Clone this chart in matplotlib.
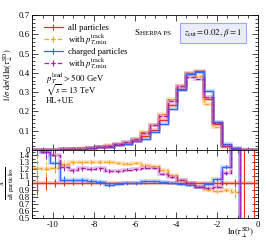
import numpy as np
import matplotlib
matplotlib.use("Agg")
import matplotlib.pyplot as plt
from matplotlib.lines import Line2D
from matplotlib.ticker import MultipleLocator

plt.rcParams['font.family'] = ['Liberation Serif', 'DejaVu Serif']
plt.rcParams['mathtext.fontset'] = 'stix'

# ---- data ----
bin_edges = np.linspace(-11.0, 0.0, 26)
labels = ["all particles", r"with $p_{T,\mathrm{min}}^{\mathrm{track}}$",
          "charged particles", r"with $p_{T,\mathrm{min}}^{\mathrm{track}}$"]
colors = ["#EE3311", "#FFA020", "#3366FF", "#AA22AA"]
styles = ["-", "--", "-", "--"]

all_particles = [0.0005, 0.001, 0.0015, 0.0025, 0.004, 0.006, 0.009, 0.013, 0.018, 0.025,
                 0.033, 0.046, 0.072, 0.106, 0.157, 0.234, 0.316, 0.400, 0.410, 0.265,
                 0.133, 0.020, 0.004, 0.0005, 0.0002]
all_ptmin = [0.0006, 0.0012, 0.0018, 0.0032, 0.0052, 0.0078, 0.0117, 0.0169, 0.0234, 0.032,
             0.042, 0.059, 0.091, 0.131, 0.187, 0.262, 0.332, 0.396, 0.385, 0.240,
             0.118, 0.018, 0.0035, 0.0, 0.0]
charged = [0.0008, 0.0014, 0.0019, 0.0026, 0.0042, 0.0062, 0.0093, 0.0133, 0.0176, 0.0248,
           0.033, 0.046, 0.055, 0.094, 0.133, 0.214, 0.311, 0.396, 0.405, 0.308,
           0.145, 0.029, 0.008, 0.0, 0.0]
charged_ptmin = [0.0007, 0.0015, 0.0021, 0.0031, 0.0048, 0.0073, 0.0108, 0.0157, 0.0211, 0.029,
                 0.039, 0.055, 0.088, 0.128, 0.177, 0.255, 0.332, 0.380, 0.368, 0.277,
                 0.140, 0.023, 0.007, 0.0, 0.0]

ratio_all_ptmin = [1.21, 1.20, 1.21, 1.28, 1.30, 1.30, 1.30, 1.30, 1.30, 1.29,
                   1.28, 1.29, 1.26, 1.24, 1.19, 1.12, 1.05, 0.99, 0.94, 0.90,
                   0.88, 0.90, 0.87, np.nan, np.nan]
ratio_charged = [1.60, 1.44, 1.29, 1.05, 1.04, 1.04, 1.03, 1.02, 0.98, 0.99,
                 1.00, 1.00, 1.03, 1.03, 1.01, 1.00, 0.99, 0.97, 0.95, 0.99,
                 1.055, 1.23, 1.60, 0.0, 0.0]
ratio_charged_ptmin = [np.nan, 1.45, 1.41, 1.23, 1.19, 1.21, 1.20, 1.21, 1.17, 1.17,
                       1.19, 1.20, 1.22, 1.21, 1.13, 1.09, 1.05, 1.00, 0.95, 0.93,
                       0.95, 1.14, 1.60, 0.0, 0.0]
ratio_err_all = [0.17, 0.10, 0.06, 0.04, 0.03, 0.03, 0.02, 0.02, 0.015, 0.01,
                 0.01, 0.01, 0.01, 0.005, 0.005, 0.005, 0.005, 0.005, 0.005, 0.005,
                 0.01, 0.02, 0.06, 0.6, 0.6]
ratio_err_ptmin = [0.20, 0.10, 0.07, 0.05, 0.04, 0.04, 0.03, 0.03, 0.03, 0.02,
                   0.02, 0.02, 0.02, 0.01, 0.01, 0.01, 0.01, 0.01, 0.01, 0.01,
                   0.02, 0.03, 0.08, 0.0, 0.0]

series = [all_particles, all_ptmin, charged, charged_ptmin]
ratios = [[1.0] * 25, ratio_all_ptmin, ratio_charged, ratio_charged_ptmin]
rerrs = [ratio_err_all, ratio_err_ptmin, ratio_err_ptmin, ratio_err_ptmin]

# ---- figure ----
fig = plt.figure(figsize=(2.66, 2.40), dpi=100)
axm = fig.add_axes([0.122, 0.375, 0.848, 0.5625])
axr = fig.add_axes([0.122, 0.0917, 0.848, 0.2833], sharex=axm)

centers = 0.5 * (bin_edges[:-1] + bin_edges[1:])

def step(ax, vals, color, ls, lw=0.9, band=True):
    v = np.asarray(vals, dtype=float)
    y = np.append(v, v[-1])
    if band:
        ax.step(bin_edges, y, where='post', color=color, lw=2.6, alpha=0.3,
                solid_joinstyle='miter')
    ax.step(bin_edges, y, where='post', color=color, lw=lw, ls=ls)

for vals, c, ls in zip(series, colors, styles):
    step(axm, vals, c, ls)

for r, e, c, ls in zip(ratios, rerrs, colors, styles):
    step(axr, r, c, ls)
    r = np.asarray(r, float)
    e = np.asarray(e, float)
    axr.vlines(centers, r - e, r + e, colors=c, lw=0.8, linestyles=ls)

axm.set_xlim(-11, 0)
axm.set_ylim(0, 0.7)
axr.set_ylim(0.5, 1.475)

axm.yaxis.set_major_locator(MultipleLocator(0.1))
axm.yaxis.set_minor_locator(MultipleLocator(0.02))
axr.yaxis.set_major_locator(MultipleLocator(0.1))
axr.yaxis.set_minor_locator(MultipleLocator(0.05))
axr.xaxis.set_major_locator(MultipleLocator(2))
axr.xaxis.set_minor_locator(MultipleLocator(0.5))

for ax in (axm, axr):
    ax.tick_params(which='both', direction='in', top=True, right=True,
                   labelsize=6.3, pad=2, width=0.5)
    ax.tick_params(which='major', length=4)
    ax.tick_params(which='minor', length=2)
    for s in ax.spines.values():
        s.set_linewidth(0.6)
axm.tick_params(labelbottom=False)
axm.set_yticks(np.arange(0, 0.71, 0.1))
axm.set_yticklabels(["0", "0.1", "0.2", "0.3", "0.4", "0.5", "0.6", "0.7"])
rt = np.round(np.arange(0.5, 1.41, 0.1), 1)
axr.set_yticks(rt)
axr.set_yticklabels([("1" if v == 1.0 else f"{v:.1f}") for v in rt])
axr.set_xticks([-10, -8, -6, -4, -2, 0])
axr.set_xticklabels(["-10", "-8", "-6", "-4", "-2", "0"])

fig.text(0.03, 0.6875, r"$1/\sigma\;\mathrm{d}\sigma/\mathrm{d}\,\ln(\tau_{\perp}^{\mathrm{SD}})$",
         rotation=90, ha='center', va='center', fontsize=6)
fig.text(0.03, 0.235, r"$\frac{X}{\mathrm{all\ particles}}$",
         rotation=90, ha='center', va='center', fontsize=7)
fig.text(0.955, 0.03, r"$\ln(\tau_{\perp}^{\mathrm{SD}})$", ha='right', va='center', fontsize=6.5)

handles = [Line2D([], [], color=c, ls=ls, lw=0.9, marker='|', markersize=5,
                  markeredgewidth=0.8) for c, ls in zip(colors, styles)]
axm.legend(handles, labels, loc='upper left', bbox_to_anchor=(0.05, 0.935),
           frameon=False, fontsize=6.3, handlelength=2.2, handletextpad=0.6,
           labelspacing=0.05, borderaxespad=0.0, borderpad=0.0)

axm.text(0.45, 0.865, "S", transform=axm.transAxes, fontsize=6.3, ha='left', va='center')
axm.text(0.476, 0.862, "HERPA PS", transform=axm.transAxes, fontsize=5, ha='left', va='center')
axm.text(0.80, 0.865, r"$z_{\mathrm{cut}}=0.02,\,\beta=1$", transform=axm.transAxes,
         fontsize=6.3, ha='center', va='center',
         bbox=dict(boxstyle='square,pad=0.45', fc='#ECECF8', ec='#99AAEE', lw=0.8))

axm.text(0.06, 0.53, r"$p_T^{\mathrm{lead}} > 500$ GeV", transform=axm.transAxes,
         fontsize=6.3, ha='left', va='center')
axm.text(0.06, 0.44, r"$\sqrt{s}=13$ TeV", transform=axm.transAxes,
         fontsize=6.3, ha='left', va='center')
axm.text(0.06, 0.36, "HL+UE", transform=axm.transAxes,
         fontsize=6.3, ha='left', va='center')

fig.savefig("out.png", dpi=100)
